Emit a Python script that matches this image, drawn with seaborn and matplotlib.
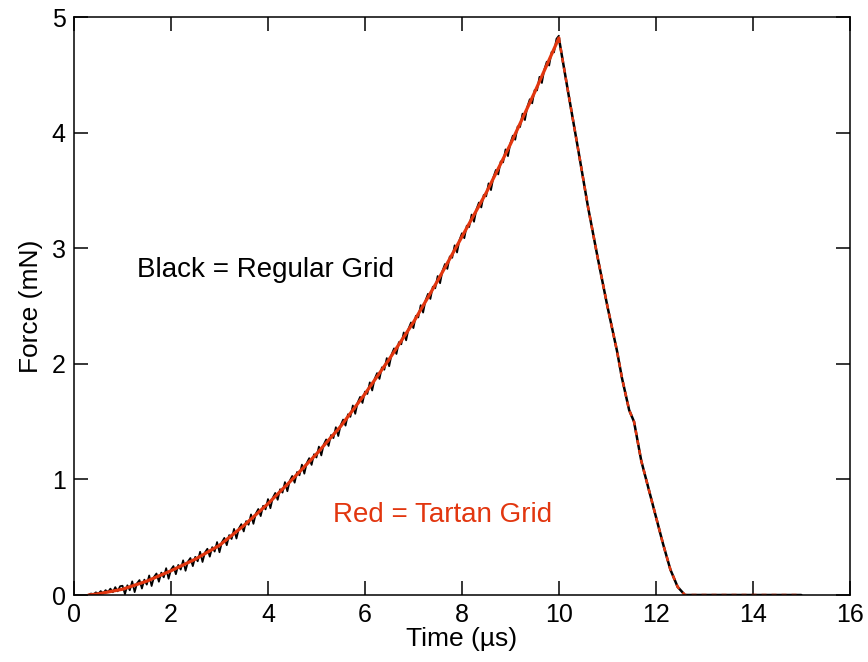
import numpy as np
import matplotlib
matplotlib.use('Agg')
import matplotlib.pyplot as plt
import seaborn as sns

# black = regular grid (noisy trace), loading part, every 0.05 us
black_t = [0.30, 0.35, 0.40, 0.45, 0.50, 0.55, 0.60, 0.65, 0.70, 0.75, 0.80, 0.85, 0.90, 0.95,
           1.00, 1.05, 1.10, 1.15, 1.20, 1.25, 1.30, 1.35, 1.40, 1.45, 1.50, 1.55, 1.60, 1.65, 1.70, 1.75, 1.80, 1.85, 1.90, 1.95,
           2.00, 2.05, 2.10, 2.15, 2.20, 2.25, 2.30, 2.35, 2.40, 2.45, 2.50, 2.55, 2.60, 2.65, 2.70, 2.75, 2.80, 2.85, 2.90, 2.95,
           3.00, 3.05, 3.10, 3.15, 3.20, 3.25, 3.30, 3.35, 3.40, 3.45, 3.50, 3.55, 3.60, 3.65, 3.70, 3.75, 3.80, 3.85, 3.90, 3.95,
           4.00, 4.05, 4.10, 4.15, 4.20, 4.25, 4.30, 4.35, 4.40, 4.45, 4.50, 4.55, 4.60, 4.65, 4.70, 4.75, 4.80, 4.85, 4.90, 4.95,
           5.00, 5.05, 5.10, 5.15, 5.20, 5.25, 5.30, 5.35, 5.40, 5.45, 5.50, 5.55, 5.60, 5.65, 5.70, 5.75, 5.80, 5.85, 5.90, 5.95,
           6.00, 6.05, 6.10, 6.15, 6.20, 6.25, 6.30, 6.35, 6.40, 6.45, 6.50, 6.55, 6.60, 6.65, 6.70, 6.75, 6.80, 6.85, 6.90, 6.95,
           7.00, 7.05, 7.10, 7.15, 7.20, 7.25, 7.30, 7.35, 7.40, 7.45, 7.50, 7.55, 7.60, 7.65, 7.70, 7.75, 7.80, 7.85, 7.90, 7.95,
           8.00, 8.05, 8.10, 8.15, 8.20, 8.25, 8.30, 8.35, 8.40, 8.45, 8.50, 8.55, 8.60, 8.65, 8.70, 8.75, 8.80, 8.85, 8.90, 8.95,
           9.00, 9.05, 9.10, 9.15, 9.20, 9.25, 9.30, 9.35, 9.40, 9.45, 9.50, 9.55, 9.60, 9.65, 9.70, 9.75, 9.80, 9.85, 9.90, 9.95,
           10.00]
black_f = [0.000, 0.013, 0.005, 0.023, 0.010, 0.034, 0.013, 0.042, 0.026, 0.055, 0.024, 0.068, 0.032, 0.076,
           0.080, 0.007, 0.084, 0.041, 0.118, 0.025, 0.102, 0.129, 0.056, 0.133, 0.090, 0.169, 0.078, 0.157, 0.186, 0.115, 0.194, 0.153, 0.232, 0.141,
           0.220, 0.250, 0.180, 0.260, 0.220, 0.300, 0.210, 0.290, 0.320, 0.250, 0.330, 0.292, 0.374, 0.286, 0.368, 0.400, 0.332, 0.414, 0.376, 0.458,
           0.370, 0.457, 0.494, 0.431, 0.518, 0.485, 0.572, 0.489, 0.576, 0.613, 0.550, 0.639, 0.608, 0.697, 0.616, 0.705, 0.744, 0.683, 0.772, 0.741,
           0.830, 0.751, 0.842, 0.883, 0.824, 0.915, 0.886, 0.977, 0.898, 0.989, 1.030, 0.972, 1.064, 1.036, 1.128, 1.050, 1.142, 1.184, 1.126, 1.218,
           1.190, 1.284, 1.208, 1.302, 1.346, 1.290, 1.384, 1.358, 1.452, 1.376, 1.470, 1.518, 1.466, 1.564, 1.542, 1.640, 1.568, 1.666, 1.714, 1.662,
           1.760, 1.740, 1.840, 1.770, 1.870, 1.920, 1.870, 1.970, 1.950, 2.050, 1.980, 2.082, 2.134, 2.086, 2.188, 2.170, 2.272, 2.204, 2.306, 2.358,
           2.310, 2.416, 2.402, 2.508, 2.444, 2.550, 2.606, 2.562, 2.668, 2.654, 2.760, 2.698, 2.806, 2.864, 2.822, 2.930, 2.918, 3.026, 2.964, 3.072,
           3.130, 3.088, 3.196, 3.184, 3.292, 3.230, 3.338, 3.396, 3.354, 3.462, 3.450, 3.562, 3.504, 3.616, 3.678, 3.640, 3.752, 3.744, 3.856, 3.798,
           3.910, 3.975, 3.940, 4.055, 4.050, 4.165, 4.110, 4.225, 4.290, 4.255, 4.370, 4.367, 4.484, 4.431, 4.548, 4.615, 4.582, 4.699, 4.696, 4.813,
           4.840]

# red = tartan grid, loading part
red_t = [0.3, 0.5, 1.0, 1.5, 2.0, 2.5, 3.0, 3.5, 4.0, 4.5, 5.0, 5.5, 6.0, 6.5, 7.0, 7.5,
         8.0, 8.5, 9.0, 9.5, 10.0]
red_f = [0.00, 0.01, 0.05, 0.12, 0.21, 0.31, 0.43, 0.60, 0.79, 1.00, 1.22, 1.46, 1.74, 2.04,
         2.36, 2.72, 3.10, 3.48, 3.90, 4.35, 4.82]

# unloading part (both grids lie on top of each other)
fall_t = [10.0, 10.2, 10.4, 10.6, 10.8, 11.0, 11.2, 11.3, 11.45, 11.55, 11.7, 11.85, 12.0,
          12.15, 12.3, 12.45, 12.6, 15.0]
fall_f = [4.82, 4.33, 3.85, 3.36, 2.92, 2.50, 2.11, 1.88, 1.60, 1.50, 1.16, 0.92, 0.68,
          0.44, 0.22, 0.07, 0.0, 0.0]

red = '#e2360f'

sns.set_theme(style='ticks')
plt.rcParams['font.family'] = ['Liberation Sans', 'DejaVu Sans']

fig = plt.figure(figsize=(8.68, 6.62), dpi=100)
ax = fig.add_axes([0.0853, 0.1012, 0.8937, 0.8728])

sns.lineplot(x=black_t, y=black_f, ax=ax, color='black', lw=1.3, estimator=None, sort=False)
sns.lineplot(x=fall_t, y=fall_f, ax=ax, color='black', lw=1.8, estimator=None, sort=False)
sns.lineplot(x=red_t, y=red_f, ax=ax, color=red, lw=2.3, estimator=None, sort=False)
sns.lineplot(x=fall_t, y=fall_f, ax=ax, color=red, lw=1.8, estimator=None, sort=False,
             linestyle=(0, (2, 2)))

ax.set_xlim(0, 16)
ax.set_ylim(0, 5)
ax.set_xticks(range(0, 17, 2))
ax.set_yticks(range(0, 6))
ax.tick_params(direction='in', length=10, width=1.1, labelsize=18, top=True, right=True,
               colors='black', pad=6)
for s in ax.spines.values():
    s.set_linewidth(1.1)
    s.set_color('black')

ax.set_xlabel('Time (µs)', fontsize=19, labelpad=0, color='black')
ax.set_ylabel('Force (mN)', fontsize=19, labelpad=6, color='black')

ax.text(1.3, 2.81, 'Black = Regular Grid', fontsize=20, color='black', va='center')
ax.text(5.34, 0.69, 'Red = Tartan Grid', fontsize=20, color=red, va='center')

fig.savefig('out.png', dpi=100)
